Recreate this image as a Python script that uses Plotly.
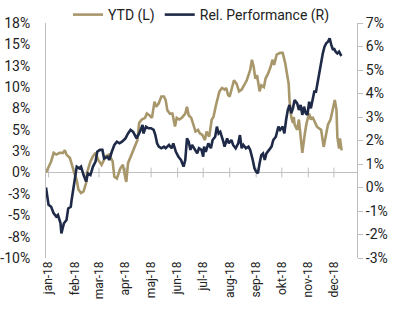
import plotly.graph_objects as go

# ---- data (values in %) ----
ytd_dates = [
    "2017-12-29", "2018-01-04", "2018-01-07", "2018-01-10", "2018-01-14", "2018-01-18", "2018-01-20",
    "2018-01-22", "2018-01-26", "2018-01-28", "2018-01-31", "2018-02-03", "2018-02-05", "2018-02-08",
    "2018-02-11", "2018-02-14", "2018-02-15", "2018-02-19", "2018-02-22", "2018-02-25", "2018-02-28",
    "2018-03-04", "2018-03-09", "2018-03-13", "2018-03-17", "2018-03-19", "2018-03-22", "2018-03-26",
    "2018-03-29", "2018-04-01", "2018-04-02", "2018-04-04", "2018-04-07", "2018-04-09", "2018-04-12",
    "2018-04-15", "2018-04-17", "2018-04-20", "2018-04-24", "2018-04-26", "2018-04-29", "2018-05-02",
    "2018-05-05", "2018-05-07", "2018-05-10", "2018-05-13", "2018-05-16", "2018-05-18", "2018-05-20",
    "2018-05-23", "2018-05-26", "2018-05-29", "2018-05-31", "2018-06-03", "2018-06-06", "2018-06-10",
    "2018-06-12", "2018-06-14", "2018-06-17", "2018-06-20", "2018-06-22", "2018-06-25", "2018-06-27",
    "2018-06-30", "2018-07-03", "2018-07-05", "2018-07-08", "2018-07-11", "2018-07-13", "2018-07-16",
    "2018-07-18", "2018-07-20", "2018-07-23", "2018-07-26", "2018-07-28", "2018-07-30", "2018-08-01",
    "2018-08-04", "2018-08-06", "2018-08-09", "2018-08-12", "2018-08-15", "2018-08-18", "2018-08-21",
    "2018-08-25", "2018-08-27", "2018-08-29", "2018-08-31", "2018-09-02", "2018-09-05", "2018-09-07",
    "2018-09-10", "2018-09-12", "2018-09-15", "2018-09-18", "2018-09-20", "2018-09-22", "2018-09-25",
    "2018-09-29", "2018-10-02", "2018-10-05", "2018-10-07", "2018-10-09", "2018-10-10", "2018-10-12",
    "2018-10-14", "2018-10-15", "2018-10-16", "2018-10-19", "2018-10-21", "2018-10-23", "2018-10-25",
    "2018-10-28", "2018-10-30", "2018-11-02", "2018-11-04", "2018-11-06", "2018-11-09", "2018-11-11",
    "2018-11-13", "2018-11-16", "2018-11-19", "2018-11-22", "2018-11-24", "2018-11-27", "2018-11-29",
    "2018-12-02", "2018-12-04", "2018-12-05", "2018-12-07", "2018-12-08", "2018-12-10",
]
ytd_values = [
    0.0, 1.3, 2.3, 2.1, 2.3, 2.3, 2.6,
    2.1, 1.7, 0.9, 0.0, -0.9, -2.0, -2.4,
    -2.2, -1.2, 0.0, 1.3, 1.9, 2.3, 1.5,
    0.9, 1.9, 2.1, 1.3, -0.5, -0.7, 0.5,
    0.9, -0.7, -1.1, 1.1, 1.9, 2.4, 3.0,
    3.8, 5.8, 6.2, 6.4, 6.9, 6.7, 6.4,
    8.3, 7.7, 8.1, 8.9, 8.9, 8.5, 7.3,
    6.9, 6.9, 5.4, 6.4, 6.2, 6.4, 6.9,
    7.7, 6.7, 6.4, 5.4, 4.8, 5.0, 4.6,
    4.4, 3.8, 4.8, 4.2, 6.2, 6.5, 7.9,
    8.7, 9.5, 9.9, 9.7, 9.9, 9.1, 8.9,
    10.2, 10.8, 10.4, 9.5, 9.7, 10.2, 10.8,
    12.0, 13.2, 12.4, 11.0, 11.4, 9.5, 10.2,
    10.0, 11.0, 11.6, 12.4, 13.2, 12.6, 13.8,
    14.0, 14.0, 12.8, 11.8, 10.4, 8.5, 6.5,
    5.8, 6.5, 5.6, 5.0, 6.2, 3.8, 2.3,
    4.6, 5.8, 6.9, 6.2, 6.5, 5.8, 5.4,
    5.2, 5.0, 3.0, 4.4, 5.6, 6.2, 7.3,
    8.5, 7.3, 4.2, 2.8, 4.0, 2.6,
]

rel_dates = [
    "2017-12-29", "2018-01-01", "2018-01-04", "2018-01-07", "2018-01-10", "2018-01-12", "2018-01-15",
    "2018-01-16", "2018-01-19", "2018-01-22", "2018-01-24", "2018-01-27", "2018-01-28", "2018-01-30",
    "2018-02-01", "2018-02-03", "2018-02-06", "2018-02-08", "2018-02-11", "2018-02-14", "2018-02-16",
    "2018-02-19", "2018-02-22", "2018-02-25", "2018-02-27", "2018-03-02", "2018-03-05", "2018-03-07",
    "2018-03-11", "2018-03-13", "2018-03-16", "2018-03-19", "2018-03-22", "2018-03-25", "2018-03-28",
    "2018-03-31", "2018-04-01", "2018-04-04", "2018-04-07", "2018-04-10", "2018-04-12", "2018-04-14",
    "2018-04-17", "2018-04-19", "2018-04-21", "2018-04-22", "2018-04-25", "2018-04-28", "2018-05-01",
    "2018-05-04", "2018-05-06", "2018-05-08", "2018-05-10", "2018-05-13", "2018-05-16", "2018-05-18",
    "2018-05-22", "2018-05-25", "2018-05-27", "2018-05-30", "2018-06-02", "2018-06-05", "2018-06-08",
    "2018-06-10", "2018-06-12", "2018-06-14", "2018-06-16", "2018-06-18", "2018-06-21", "2018-06-24",
    "2018-06-26", "2018-06-29", "2018-07-01", "2018-07-02", "2018-07-04", "2018-07-07", "2018-07-10",
    "2018-07-12", "2018-07-15", "2018-07-17", "2018-07-19", "2018-07-21", "2018-07-24", "2018-07-26",
    "2018-07-29", "2018-07-31", "2018-08-03", "2018-08-05", "2018-08-08", "2018-08-11", "2018-08-13",
    "2018-08-15", "2018-08-17", "2018-08-20", "2018-08-23", "2018-08-25", "2018-08-28", "2018-08-30",
    "2018-09-01", "2018-09-03", "2018-09-05", "2018-09-07", "2018-09-09", "2018-09-11", "2018-09-13",
    "2018-09-16", "2018-09-19", "2018-09-21", "2018-09-24", "2018-09-27", "2018-09-29", "2018-10-02",
    "2018-10-04", "2018-10-06", "2018-10-08", "2018-10-10", "2018-10-12", "2018-10-14", "2018-10-16",
    "2018-10-19", "2018-10-21", "2018-10-23", "2018-10-25", "2018-10-27", "2018-10-29", "2018-10-31",
    "2018-11-02", "2018-11-04", "2018-11-06", "2018-11-08", "2018-11-10", "2018-11-12", "2018-11-14",
    "2018-11-16", "2018-11-18", "2018-11-20", "2018-11-22", "2018-11-24", "2018-11-26", "2018-11-28",
    "2018-11-30", "2018-12-01", "2018-12-03", "2018-12-05", "2018-12-07", "2018-12-09", "2018-12-10",
]
rel_values = [
    0.0, -0.74, -0.82, -1.1, -1.24, -1.17, -1.52,
    -1.95, -1.52, -1.38, -0.89, -0.82, -0.53, -0.11,
    0.46, 0.89, 0.82, 0.89, 0.53, 0.25, 0.6,
    0.53, 0.89, 1.1, 1.52, 1.6, 1.6, 1.24,
    1.31, 1.17, 1.52, 1.81, 1.95, 1.88, 1.95,
    2.09, 2.09, 2.3, 2.45, 2.37, 2.23, 2.09,
    2.3, 2.52, 2.66, 2.3, 2.59, 2.52, 2.52,
    2.45, 2.23, 1.88, 1.74, 1.67, 1.74, 1.67,
    1.81, 1.67, 1.88, 1.52, 1.31, 1.17, 0.89,
    1.17, 2.09, 1.95, 1.6, 1.81, 1.6, 1.45,
    1.67, 1.6, 1.31, 1.74, 1.52, 1.88, 1.67,
    2.02, 2.16, 2.59, 2.3, 2.37, 2.02, 1.74,
    2.09, 1.88, 2.02, 1.81, 1.67, 1.88, 2.23,
    1.67, 1.81, 1.67, 1.74, 1.6, 1.17, 0.82,
    0.67, 0.6, 1.03, 1.38, 1.45, 1.17, 1.45,
    1.6, 1.74, 2.02, 2.16, 2.59, 2.45, 2.59,
    2.3, 2.87, 3.3, 3.51, 3.16, 3.37, 3.72,
    3.58, 3.3, 3.51, 3.09, 3.44, 3.16, 3.09,
    3.65, 3.37, 3.72, 4.08, 4.08, 4.5, 4.86,
    5.21, 5.71, 5.99, 6.14, 6.2, 6.35, 6.06,
    5.85, 5.92, 5.78, 5.71, 5.78, 5.64, 5.6,
]

month_ticks = ["2018-01-01", "2018-02-01", "2018-03-01", "2018-04-01", "2018-05-01", "2018-06-01",
               "2018-07-01", "2018-08-01", "2018-09-01", "2018-10-01", "2018-11-01", "2018-12-01"]
month_labels = ["jan-18", "feb-18", "mar-18", "apr-18", "maj-18", "jun-18",
                "jul-18", "aug-18", "sep-18", "okt-18", "nov-18", "dec-18"]

left_tickvals = [-10, -7.5, -5, -2.5, 0, 2.5, 5, 7.5, 10, 12.5, 15, 17.5]
left_ticktext = ["-10%", "-8%", "-5%", "-3%", "0%", "3%", "5%", "8%", "10%", "13%", "15%", "18%"]
right_tickvals = [-3, -2, -1, 0, 1, 2, 3, 4, 5, 6, 7]
right_ticktext = ["-3%", "-2%", "-1%", "0%", "1%", "2%", "3%", "4%", "5%", "6%", "7%"]

TAN = "#A8976B"
NAVY = "#1E2A47"
GREY = "#BFBFBF"
TXT = "#222222"
FONT = "Roboto"

x_range = ["2017-12-29", "2018-12-28"]
left_range = [-10, 17.5]

fig = go.Figure()
# small tick marks on the zero line at each month start
fig.add_trace(go.Scatter(x=month_ticks, y=[0] * len(month_ticks), mode="markers",
                         marker=dict(symbol="line-ns", size=7, color=GREY,
                                     line=dict(width=1, color=GREY)),
                         showlegend=False, hoverinfo="skip", yaxis="y"))
fig.add_trace(go.Scatter(x=ytd_dates, y=ytd_values, mode="lines", name="YTD (L)",
                         line=dict(color=TAN, width=2.6), yaxis="y"))
fig.add_trace(go.Scatter(x=rel_dates, y=rel_values, mode="lines", name="Rel. Performance (R)",
                         line=dict(color=NAVY, width=2.6), yaxis="y2"))

fig.update_layout(
    width=400, height=321,
    margin=dict(l=46, r=43, t=23, b=63, autoexpand=False),
    paper_bgcolor="white", plot_bgcolor="white",
    font=dict(family=FONT, size=14, color=TXT),
    showlegend=True,
    legend=dict(orientation="h", x=0.5, xanchor="center", xref="paper",
                y=1 - 15 / 321, yanchor="middle", yref="container",
                font=dict(size=14, color=TXT), bgcolor="rgba(0,0,0,0)"),
    xaxis=dict(type="date", range=x_range, tickvals=month_ticks, ticktext=month_labels,
               tickangle=-90, tickfont=dict(size=12), showgrid=False, showline=False,
               zeroline=False, ticks=""),
    yaxis=dict(range=left_range, tickvals=left_tickvals, ticktext=left_ticktext,
               showgrid=False, zeroline=True, zerolinecolor=GREY, zerolinewidth=1,
               showline=True, linecolor=GREY, linewidth=1,
               ticks="", ticklabelstandoff=12, tickfont=dict(size=14)),
    yaxis2=dict(range=[-3, 7], tickvals=right_tickvals, ticktext=right_ticktext,
                overlaying="y", side="right", showgrid=False, zeroline=False, showline=True,
                linecolor=GREY, linewidth=1, ticks="outside", ticklen=5, tickcolor=GREY,
                tickfont=dict(size=14)),
)

fig.write_html("out.html")
